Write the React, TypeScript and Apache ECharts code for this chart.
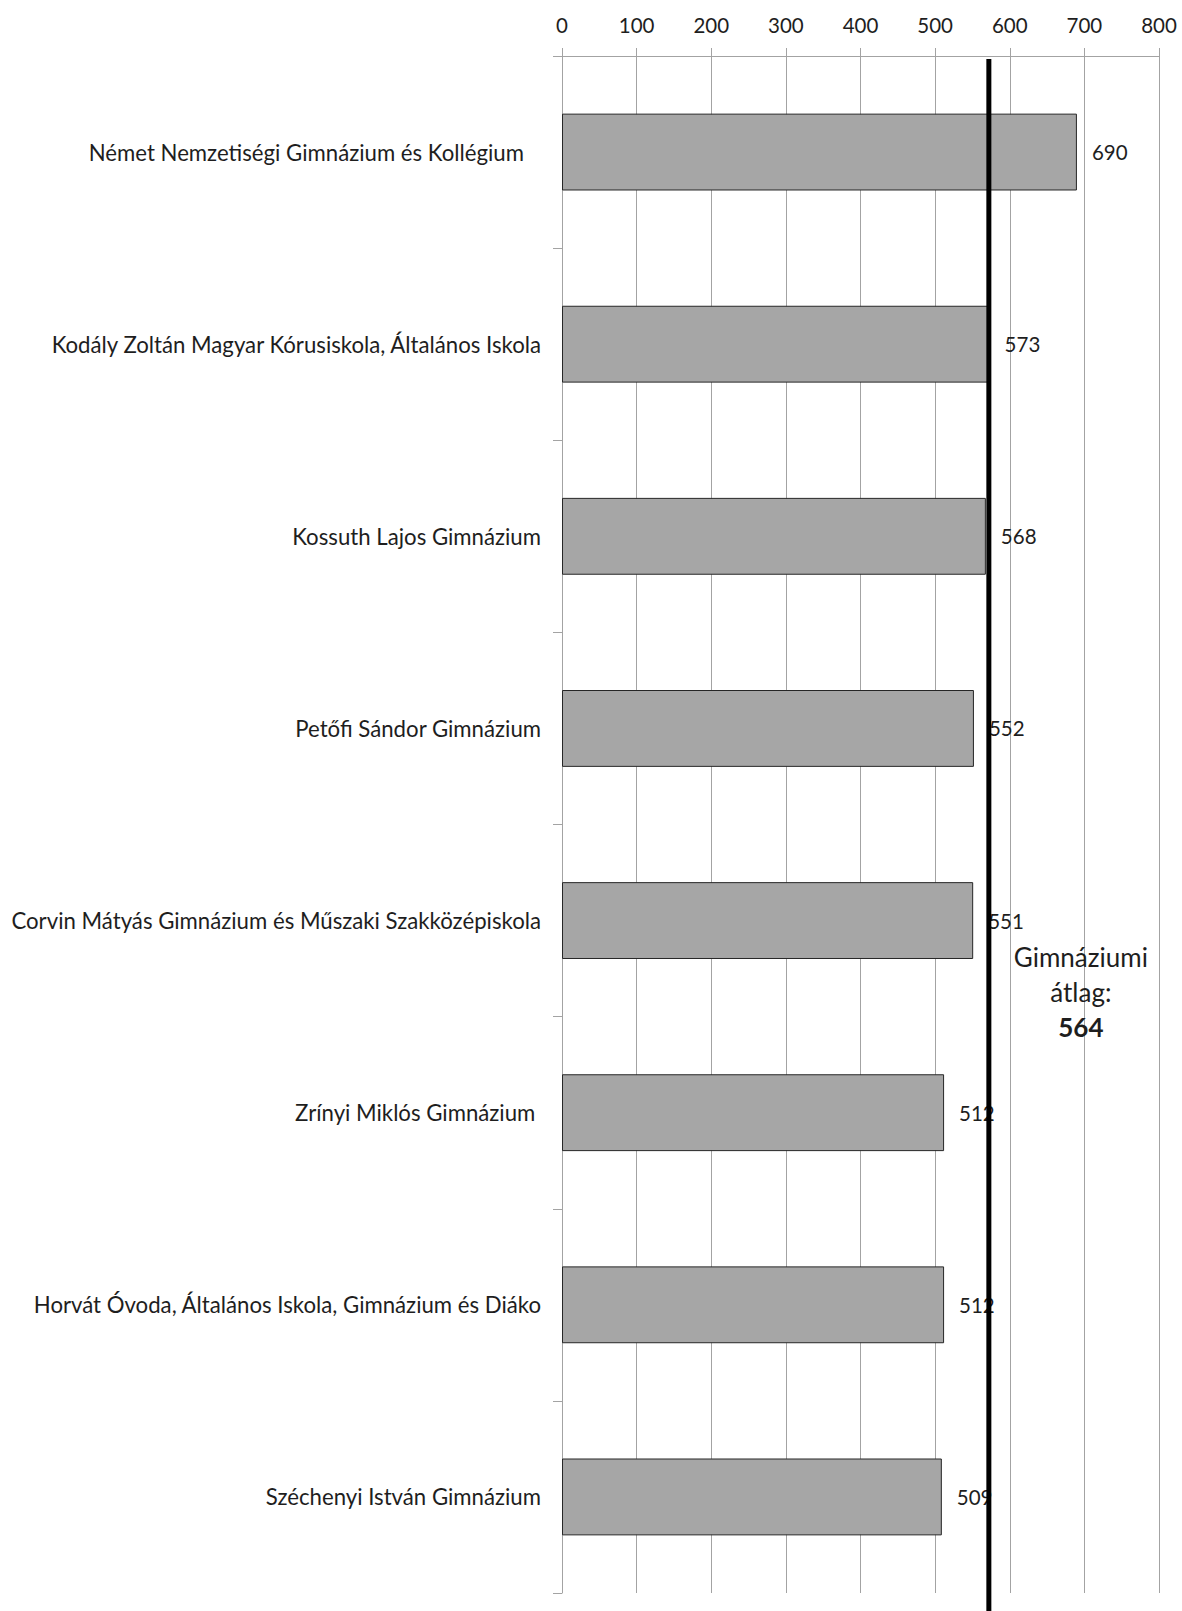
import React, { useEffect, useRef } from "react";
import * as echarts from "echarts";

const categories = [
  "Német Nemzetiségi Gimnázium és Kollégium   ",
  "Kodály Zoltán Magyar Kórusiskola, Általános Iskola",
  "Kossuth Lajos Gimnázium",
  "Petőfi Sándor Gimnázium",
  "Corvin Mátyás Gimnázium és Műszaki Szakközépiskola",
  "Zrínyi Miklós Gimnázium ",
  "Horvát Óvoda, Általános Iskola, Gimnázium és Diáko",
  "Széchenyi István Gimnázium",
];
const scores = [690, 573, 568, 552, 551, 512, 512, 509];
const axisMin = 0;
const axisMax = 800;
const axisInterval = 100;
const averageLinePosition = 572;
const averageTitle = ["Gimnáziumi", "átlag:"];
const averageValue = 564;

const FONT = "Lato";
const TEXT = "#1e1e1e";
const GRID = "#a3a3a3";

export default function App() {
  const ref = useRef<HTMLDivElement>(null);
  useEffect(() => {
    if (!ref.current) return;
    const chart = echarts.init(ref.current, null, { renderer: "svg" });
    const gridTop = 56;
    chart.setOption({
      animation: false,
      backgroundColor: "#ffffff",
      grid: { left: 562, top: gridTop, width: 597, height: 1537, containLabel: false },
      xAxis: {
        type: "value",
        position: "top",
        min: axisMin,
        max: axisMax,
        interval: axisInterval,
        axisLine: { show: true, lineStyle: { color: GRID, width: 1 } },
        axisTick: { show: true, length: 8, lineStyle: { color: GRID } },
        splitLine: { show: true, lineStyle: { color: GRID, width: 1 } },
        axisLabel: { fontFamily: FONT, fontSize: 20.5, color: TEXT, margin: 21, showMaxLabel: true },
      },
      yAxis: {
        type: "category",
        data: categories,
        inverse: true,
        axisLine: { show: true, lineStyle: { color: GRID, width: 1 } },
        axisTick: { show: true, length: 9, interval: 0, lineStyle: { color: GRID } },
        axisLabel: {
          interval: 0,
          margin: 21,
          fontFamily: FONT,
          fontSize: 22.2,
          color: TEXT,
          formatter: (v: string) => v.replace(/ +$/, (m) => "\u00A0".repeat(m.length)),
        },
      },
      series: [
        {
          type: "bar",
          data: scores,
          barCategoryGap: "60%",
          itemStyle: { color: "#a6a6a6", borderColor: "#262626", borderWidth: 1 },
          label: {
            show: true,
            position: "right",
            distance: 15,
            fontFamily: FONT,
            fontSize: 20.5,
            color: TEXT,
          },
        },
      ],
    });
    const lx = chart.convertToPixel({ xAxisIndex: 0 }, averageLinePosition) as number;
    chart.setOption({
      graphic: [
        {
          type: "line",
          z: 100,
          shape: { x1: lx, y1: gridTop + 3, x2: lx, y2: 1611 },
          style: { stroke: "#000000", lineWidth: 5 },
        },
        {
          type: "text",
          z: 101,
          x: lx + 92,
          y: 957,
          style: {
            text: averageTitle[0],
            fontFamily: FONT,
            fontSize: 26,
            fill: TEXT,
            textAlign: "center",
            textVerticalAlign: "middle",
          },
        },
        {
          type: "text",
          z: 101,
          x: lx + 92,
          y: 992,
          style: {
            text: averageTitle[1],
            fontFamily: FONT,
            fontSize: 26,
            fill: TEXT,
            textAlign: "center",
            textVerticalAlign: "middle",
          },
        },
        {
          type: "text",
          z: 101,
          x: lx + 92,
          y: 1027,
          style: {
            text: String(averageValue),
            fontFamily: FONT,
            fontSize: 26,
            fontWeight: "bold",
            fill: TEXT,
            textAlign: "center",
            textVerticalAlign: "middle",
          },
        },
      ],
    });
    return () => chart.dispose();
  }, []);
  return (
    <div
      ref={ref}
      style={{ position: "absolute", left: 0, top: 0, width: 1182, height: 1611, background: "#fff" }}
    />
  );
}
